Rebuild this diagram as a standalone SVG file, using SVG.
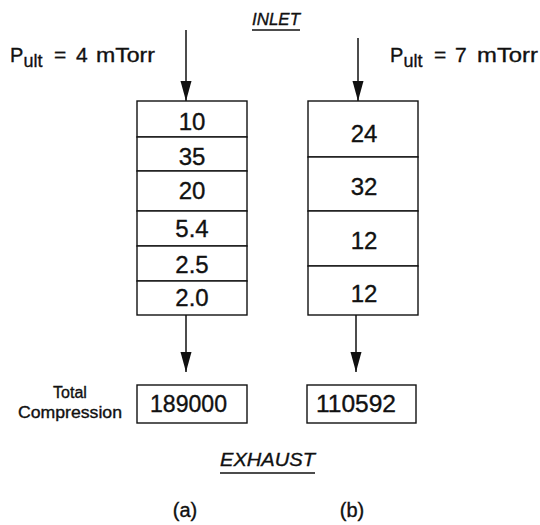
<svg xmlns="http://www.w3.org/2000/svg" width="540" height="525" viewBox="0 0 540 525">
<defs>
<style>
.bx{fill:#fff;stroke:#111;stroke-width:1.4}
.ln{stroke:#111;stroke-width:1.5;fill:none}
.t{font-family:"Liberation Sans",Arial,sans-serif;fill:#111;stroke:#111;stroke-width:0.35}
.n{font-size:24px;text-anchor:middle}
.h{font-style:italic}
</style>
<marker id="ah" markerUnits="userSpaceOnUse" markerWidth="20" markerHeight="12" refX="20" refY="5.5" orient="auto">
<path d="M0,0 L20,5.5 L0,11 z" fill="#111"/>
</marker>
</defs>
<rect width="540" height="525" fill="#fff"/>

<g id="labels">
<text class="t h" x="252" y="25" font-size="17" textLength="48" lengthAdjust="spacingAndGlyphs">INLET</text>
<line class="ln" x1="252" y1="30" x2="300" y2="30" stroke-width="1.2"/>
<text class="t h" x="220" y="466" font-size="19" textLength="95" lengthAdjust="spacingAndGlyphs">EXHAUST</text>
<line class="ln" x1="220" y1="473" x2="315" y2="473" stroke-width="1.2"/>
<text class="t" x="10" y="62" font-size="20">P</text>
<text class="t" x="23.5" y="67" font-size="19" textLength="19" lengthAdjust="spacingAndGlyphs">ult</text>
<text class="t" y="62" font-size="21"><tspan x="54">=</tspan><tspan x="76">4</tspan><tspan x="96" textLength="59" lengthAdjust="spacingAndGlyphs">mTorr</tspan></text>
<text class="t" x="390" y="62" font-size="20">P</text>
<text class="t" x="403.5" y="67" font-size="19" textLength="19" lengthAdjust="spacingAndGlyphs">ult</text>
<text class="t" y="62" font-size="21"><tspan x="434">=</tspan><tspan x="455">7</tspan><tspan x="477" textLength="61" lengthAdjust="spacingAndGlyphs">mTorr</tspan></text>
<text class="t" x="70" y="398" font-size="16" text-anchor="middle">Total</text>
<text class="t" x="18" y="418" font-size="16" textLength="104" lengthAdjust="spacingAndGlyphs">Compression</text>
<text class="t" x="185" y="517" font-size="20" text-anchor="middle">(a)</text>
<text class="t" x="352" y="517" font-size="20" text-anchor="middle">(b)</text>
</g>

<g id="stackA">
<g id="a1"><rect class="bx" x="137" y="101" width="110" height="36"/><text class="t n" x="192" y="130">10</text></g>
<g id="a2"><rect class="bx" x="137" y="137" width="110" height="34"/><text class="t n" x="192" y="165">35</text></g>
<g id="a3"><rect class="bx" x="137" y="171" width="110" height="40"/><text class="t n" x="192" y="199">20</text></g>
<g id="a4"><rect class="bx" x="137" y="211" width="110" height="35"/><text class="t n" x="192" y="237">5.4</text></g>
<g id="a5"><rect class="bx" x="137" y="246" width="110" height="35"/><text class="t n" x="192" y="273">2.5</text></g>
<g id="a6"><rect class="bx" x="137" y="281" width="110" height="34"/><text class="t n" x="192" y="306">2.0</text></g>
</g>

<g id="stackB">
<g id="b1"><rect class="bx" x="308" y="101" width="110" height="56"/><text class="t n" x="364" y="142">24</text></g>
<g id="b2"><rect class="bx" x="308" y="157" width="110" height="54"/><text class="t n" x="364" y="195">32</text></g>
<g id="b3"><rect class="bx" x="308" y="211" width="110" height="55"/><text class="t n" x="364" y="249">12</text></g>
<g id="b4"><rect class="bx" x="308" y="266" width="110" height="49"/><text class="t n" x="364" y="302">12</text></g>
</g>

<g id="totalA"><rect class="bx" x="137" y="385" width="110" height="38"/><text class="t" x="150" y="412" font-size="23" textLength="77" lengthAdjust="spacingAndGlyphs">189000</text></g>
<g id="totalB"><rect class="bx" x="307" y="385" width="109" height="38"/><text class="t" x="316" y="412" font-size="23" textLength="80" lengthAdjust="spacingAndGlyphs">110592</text></g>

<g id="connectors">
<line class="ln" x1="186" y1="30" x2="186" y2="101" marker-end="url(#ah)"/>
<line class="ln" x1="358" y1="38" x2="358" y2="101" marker-end="url(#ah)"/>
<line class="ln" x1="186" y1="315" x2="186" y2="372" marker-end="url(#ah)"/>
<line class="ln" x1="356" y1="315" x2="356" y2="372" marker-end="url(#ah)"/>
</g>
</svg>
